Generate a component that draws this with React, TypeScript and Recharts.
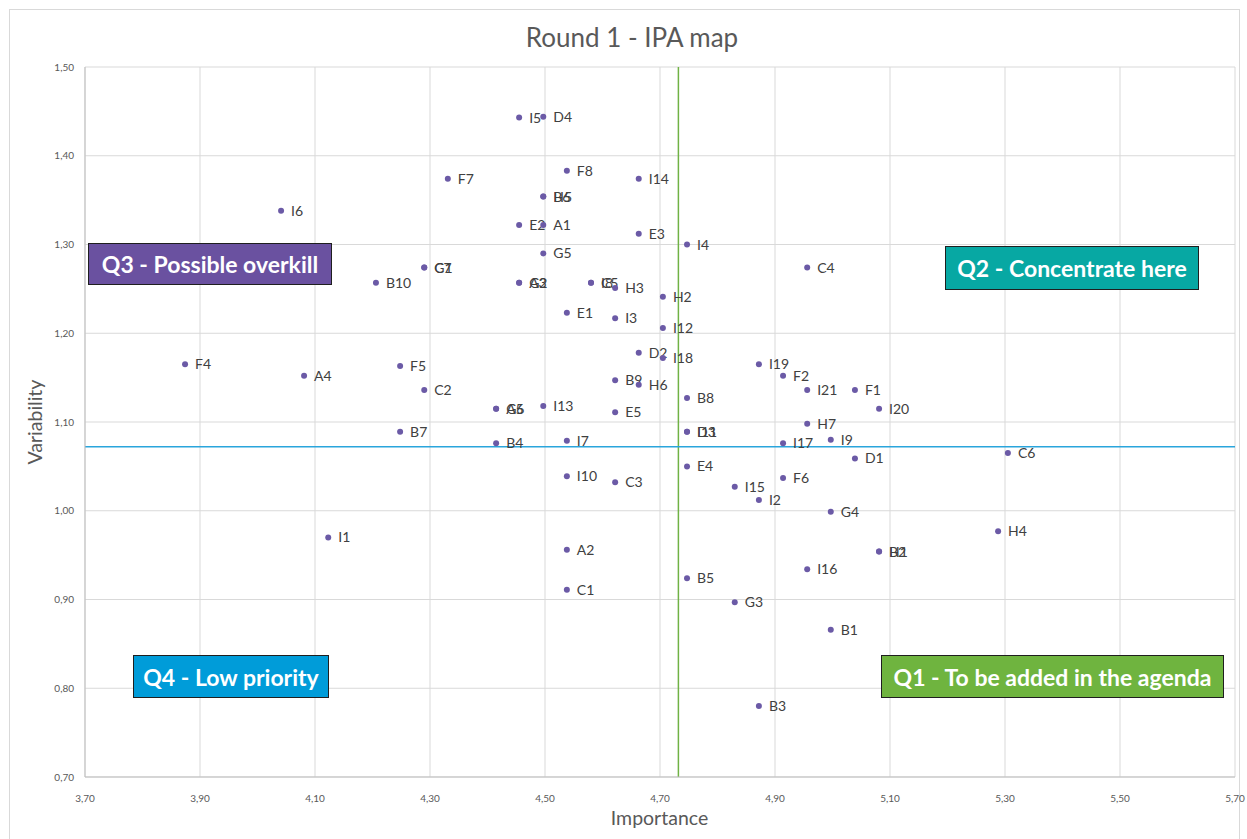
import React from 'react';
import { ScatterChart, Scatter, XAxis, YAxis, CartesianGrid, ReferenceLine } from 'recharts';

const pointLabels = [
  'I5', 'D4', 'F8', 'F7', 'I14', 'I6', 'B6', 'H5', 'E2', 'A1', 'E3', 'I4', 'G5',
  'G1', 'C7', 'B10', 'A3', 'G2', 'C5', 'I8', 'H3', 'H2', 'E1', 'I3', 'I12', 'C4',
  'D2', 'I18', 'F4', 'F5', 'I19', 'A4', 'F2', 'B9', 'H6', 'C2', 'I21', 'F1', 'B8',
  'A5', 'G6', 'I13', 'E5', 'I20', 'H7', 'B7', 'D3', 'I11', 'B4', 'I7', 'I17', 'I9',
  'D1', 'C6', 'E4', 'I10', 'C3', 'F6', 'I15', 'I2', 'G4', 'H4', 'I1', 'A2', 'B2',
  'H1', 'I16', 'B5', 'C1', 'G3', 'B1', 'B3',
];

const importance = [
  4.455, 4.497, 4.538, 4.331, 4.663, 4.041, 4.497, 4.497, 4.455, 4.497, 4.663, 4.747, 4.497,
  4.290, 4.290, 4.206, 4.455, 4.455, 4.580, 4.580, 4.622, 4.705, 4.538, 4.622, 4.705, 4.956,
  4.663, 4.705, 3.874, 4.248, 4.872, 4.081, 4.914, 4.622, 4.663, 4.290, 4.956, 5.039, 4.747,
  4.415, 4.415, 4.497, 4.622, 5.081, 4.956, 4.248, 4.747, 4.747, 4.415, 4.538, 4.914, 4.997,
  5.039, 5.305, 4.747, 4.538, 4.622, 4.914, 4.830, 4.872, 4.997, 5.288, 4.123, 4.538, 5.081,
  5.081, 4.956, 4.747, 4.538, 4.830, 4.997, 4.872,
];

const variability = [
  1.443, 1.444, 1.383, 1.374, 1.374, 1.338, 1.354, 1.354, 1.322, 1.322, 1.312, 1.300, 1.290,
  1.274, 1.274, 1.257, 1.257, 1.257, 1.257, 1.257, 1.251, 1.241, 1.223, 1.217, 1.206, 1.274,
  1.178, 1.172, 1.165, 1.163, 1.165, 1.152, 1.152, 1.147, 1.142, 1.136, 1.136, 1.136, 1.127,
  1.115, 1.115, 1.118, 1.111, 1.115, 1.098, 1.089, 1.089, 1.089, 1.076, 1.079, 1.076, 1.080,
  1.059, 1.065, 1.050, 1.039, 1.032, 1.037, 1.027, 1.012, 0.999, 0.977, 0.970, 0.956, 0.954,
  0.954, 0.934, 0.924, 0.911, 0.897, 0.866, 0.780,
];

const xTicks = [3.7, 3.9, 4.1, 4.3, 4.5, 4.7, 4.9, 5.1, 5.3, 5.5, 5.7];
const yTicks = [0.7, 0.8, 0.9, 1.0, 1.1, 1.2, 1.3, 1.4, 1.5];

const importanceMean = 4.732;
const variabilityMean = 1.072;

const quadrants = [
  { text: 'Q3 - Possible overkill', left: 88, top: 243, width: 244, height: 42, bg: '#6a51a0' },
  { text: 'Q2 - Concentrate here', left: 945, top: 246, width: 254, height: 44, bg: '#07a8a3' },
  { text: 'Q4 - Low priority', left: 133, top: 655, width: 196, height: 43, bg: '#009cd9' },
  { text: 'Q1 - To be added in the agenda', left: 881, top: 655, width: 343, height: 43, bg: '#6fb43f' },
];

const data = pointLabels.map((name, i) => ({ name, x: importance[i], y: variability[i] }));

const fmt = (v: number) => v.toFixed(2).replace('.', ',');

const font = 'Lato, "Open Sans", sans-serif';

const PointShape = (props: any) => {
  const { cx, cy, payload } = props;
  if (cx == null || cy == null) return null;
  return (
    <g>
      <circle cx={cx} cy={cy} r={3} fill="#6b5aa6" />
      <text x={cx + 10} y={cy} dy="0.36em" fontSize={14} fill="#404040" fontFamily={font}>
        {payload.name}
      </text>
    </g>
  );
};

export default function App() {
  return (
    <div style={{ position: 'absolute', left: 0, top: 0, width: 1247, height: 839, background: '#fff', fontFamily: font }}>
      <div style={{ position: 'absolute', left: 9, top: 9, width: 1231, height: 840, border: '1px solid #d9d9d9', boxSizing: 'border-box' }} />
      <ScatterChart width={1247} height={839} margin={{ top: 67, right: 12, bottom: 0, left: 0 }}>
        <CartesianGrid stroke="#d9d9d9" strokeWidth={1} />
        <XAxis
          type="number"
          dataKey="x"
          domain={[3.7, 5.7]}
          ticks={xTicks}
          tickFormatter={fmt}
          height={62}
          tickLine={false}
          tickMargin={12}
          stroke="#bfbfbf"
          tick={{ fontSize: 10, fill: '#595959', fontFamily: font }}
          allowDataOverflow
        />
        <YAxis
          type="number"
          dataKey="y"
          domain={[0.7, 1.5]}
          ticks={yTicks}
          tickFormatter={fmt}
          width={85}
          tickLine={false}
          tickMargin={5}
          stroke="#bfbfbf"
          tick={{ fontSize: 10, fill: '#595959', fontFamily: font }}
          allowDataOverflow
        />
        <ReferenceLine x={importanceMean} stroke="#70b244" strokeWidth={1.5} />
        <ReferenceLine y={variabilityMean} stroke="#2aa5dc" strokeWidth={1.5} />
        <Scatter data={data} shape={PointShape} isAnimationActive={false} />
      </ScatterChart>
      <div style={{ position: 'absolute', left: 0, width: 1264, top: 19, textAlign: 'center', fontSize: 26, color: '#595959', lineHeight: '36px' }}>
        Round 1 - IPA map
      </div>
      <div style={{ position: 'absolute', left: 85, width: 1149, top: 805, textAlign: 'center', fontSize: 19.5, color: '#595959', lineHeight: '26px' }}>
        Importance
      </div>
      <div style={{ position: 'absolute', left: 35, top: 422, width: 0, height: 0 }}>
        <div style={{ position: 'absolute', left: -60, top: -13, width: 120, lineHeight: '26px', textAlign: 'center', fontSize: 19.5, color: '#595959', transform: 'rotate(-90deg)' }}>
          Variability
        </div>
      </div>
      {quadrants.map((q) => (
        <div
          key={q.text}
          style={{
            position: 'absolute', left: q.left, top: q.top, width: q.width, height: q.height,
            background: q.bg, border: '1px solid #1f1f1f', boxSizing: 'border-box',
            color: '#fff', fontWeight: 700, fontSize: 23, display: 'flex', alignItems: 'center',
            justifyContent: 'center', whiteSpace: 'nowrap',
          }}
        >
          {q.text}
        </div>
      ))}
    </div>
  );
}
